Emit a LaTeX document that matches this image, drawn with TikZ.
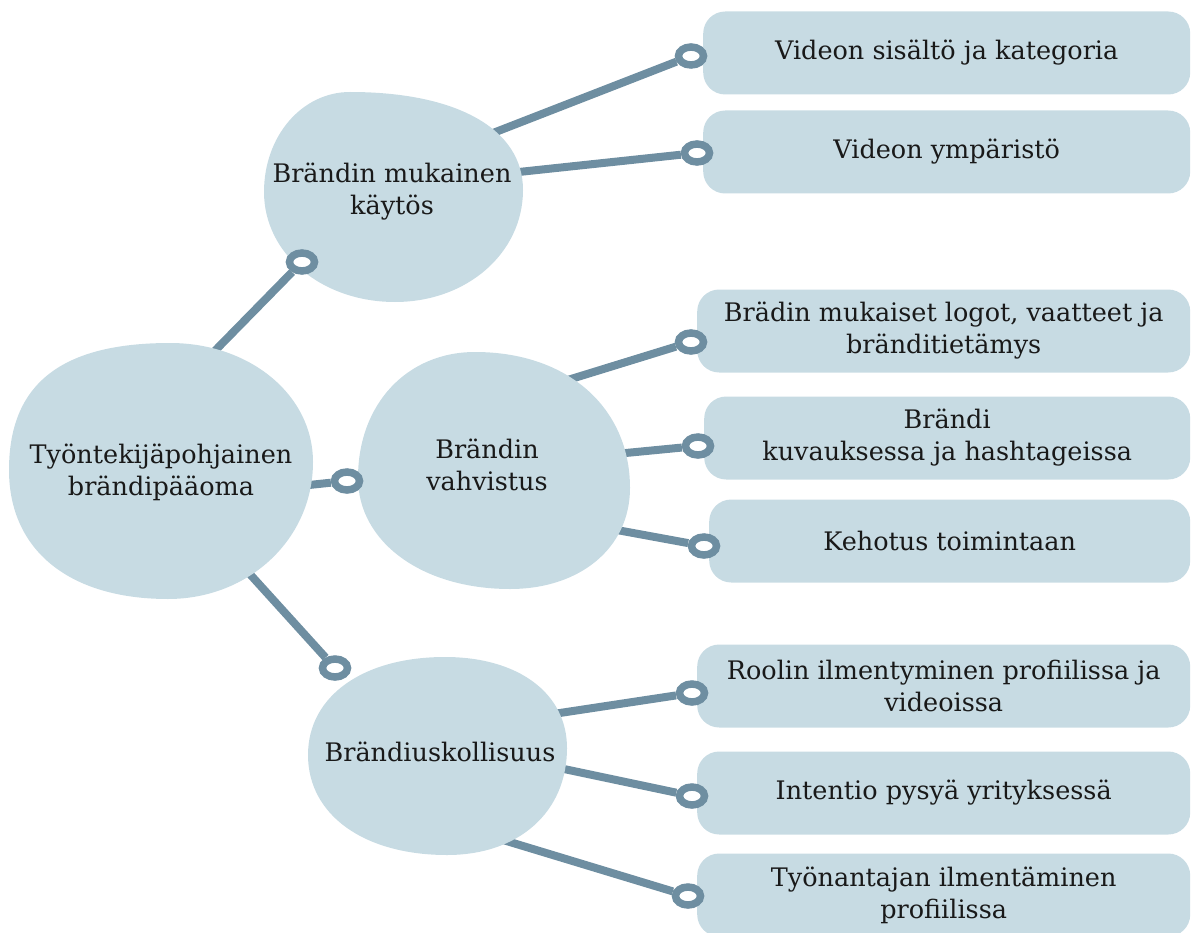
\documentclass[tikz,border=0pt]{standalone}
\usepackage{fontspec}
\setmainfont{DejaVu Serif}
\usetikzlibrary{shapes.geometric}
\definecolor{blobfill}{HTML}{C7DBE3}
\definecolor{linkcol}{HTML}{6E8EA1}
\pgfdeclarelayer{back}
\pgfsetlayers{back,main}

\begin{document}
\begin{tikzpicture}[x=1pt,y=-1pt,
    blob/.style={fill=blobfill},
    txt/.style={align=center,text=black!90,font=\fontsize{25.5}{32}\selectfont},
    leaf/.style={txt,fill=blobfill,rounded corners=22pt,anchor=west,minimum height=83pt,inner sep=0pt},
    ring/.style={ellipse,draw=linkcol,line width=7.5pt,fill=white,minimum width=25pt,minimum height=18pt,inner sep=0pt},
    link/.style={draw=linkcol,line width=8pt}]
                \useasboundingbox (0,0) rectangle (1193,933);
                % blobs
                \fill[blob] (170,343) .. controls +(80,0) and +(0,-67) .. (313,462)
                    .. controls +(0,77) and +(81,0) .. (168,599)
                    .. controls +(-99,0) and +(0,80) .. (9,470)
                    .. controls +(0,-86) and +(-109,0) .. (170,343) -- cycle;
                \fill[blob] (350,92) .. controls +(107,0) and +(0,-61) .. (523,190)
                    .. controls +(0,63) and +(72,0) .. (395,302)
                    .. controls +(-73,0) and +(0,62) .. (264,192)
                    .. controls +(0,-56) and +(-48,0) .. (350,92) -- cycle;
                \fill[blob] (475,352) .. controls +(93,0) and +(0,-80) .. (630,488)
                    .. controls +(0,60) and +(70,0) .. (510,589)
                    .. controls +(-88,0) and +(0,64) .. (358,478)
                    .. controls +(0,-74) and +(-68,0) .. (475,352) -- cycle;
                \fill[blob] (445,657) .. controls +(73,0) and +(0,-55) .. (567,748)
                    .. controls +(0,64) and +(72,0) .. (447,855)
                    .. controls +(-83,0) and +(0,60) .. (308,755)
                    .. controls +(0,-59) and +(-82,0) .. (445,657) -- cycle;
                \node[txt] (equity) at (161,472) {Työntekijäpohjainen\\brändipääoma};
                \node[txt] (use) at (392,192) {Brändin mukainen\\käytös};
                \node[txt] (confirm) at (487,465) {Brändin\\vahvistus};
                \node[txt] (loyal) at (440,752) {Brändiuskollisuus};
                % leaves
                \node[leaf,minimum width=487pt] (v1) at (703,53) {Videon sisältö ja kategoria};
                \node[leaf,minimum width=487pt] (v2) at (703,152) {Videon ympäristö};
                \node[leaf,minimum width=493pt] (v3) at (697,331) {Brädin mukaiset logot, vaatteet ja\\bränditietämys};
                \node[leaf,minimum width=486pt] (v4) at (704,438) {Brändi\\kuvauksessa ja hashtageissa};
                \node[leaf,minimum width=481pt] (v5) at (709,541) {Kehotus toimintaan};
                \node[leaf,minimum width=493pt] (v6) at (697,686) {Roolin ilmentyminen profiilissa ja\\videoissa};
                \node[leaf,minimum width=493pt] (v7) at (697,793) {Intentio pysyä yrityksessä};
                \node[leaf,minimum width=493pt] (v8) at (697,895) {Työnantajan ilmentäminen\\profiilissa};
                % rings
                \node[ring] (r1) at (302,262) {};
                \node[ring] (r2) at (347,481) {};
                \node[ring] (r3) at (335,668) {};
                \node[ring] (r4) at (691,56) {};
                \node[ring] (r5) at (697,153) {};
                \node[ring] (r6) at (691,342) {};
                \node[ring] (r7) at (698,446) {};
                \node[ring] (r8) at (704,546) {};
                \node[ring] (r9) at (692,693) {};
                \node[ring] (r10) at (692,796) {};
                \node[ring] (r11) at (688,896) {};
                % links
                \begin{pgfonlayer}{back}
                \coordinate (s1) at (200,366);
                \coordinate (s2) at (290,487);
                \coordinate (s3) at (238,561);
                \coordinate (s4) at (475,140);
                \coordinate (s5) at (500,174);
                \coordinate (s6) at (545,387);
                \coordinate (s7) at (605,455);
                \coordinate (s8) at (595,526);
                \coordinate (s9) at (540,716);
                \coordinate (s10) at (545,765);
                \coordinate (s11) at (490,836);
                \foreach \i in {1,...,11}
                    \draw[link] (s\i) -- (r\i);
                \end{pgfonlayer}
            \end{tikzpicture}
\end{document}
